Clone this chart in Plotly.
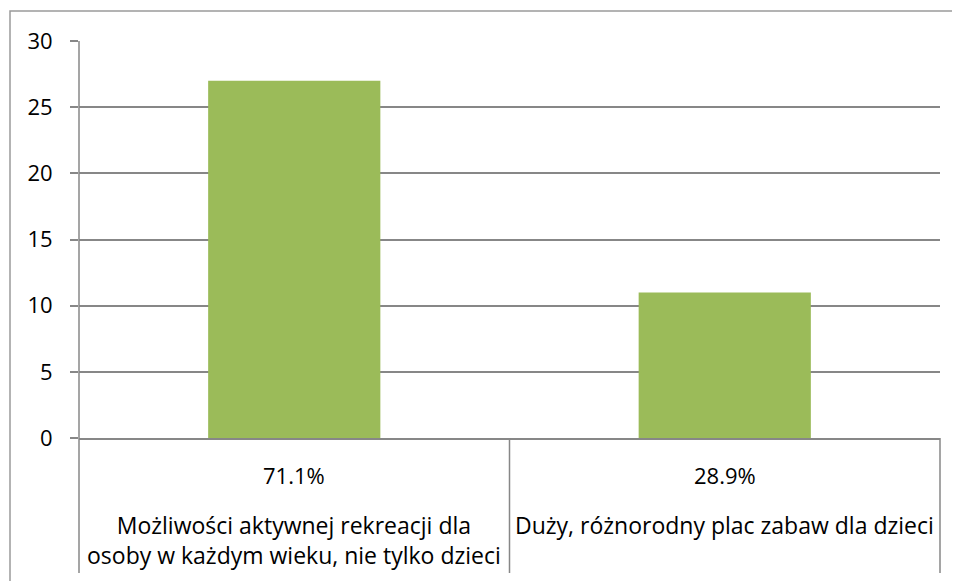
import plotly.graph_objects as go

# Data
categories = ["Możliwości aktywnej rekreacji dla<br>osoby w każdym wieku, nie tylko dzieci",
              "Duży, różnorodny plac zabaw dla dzieci"]
percent_labels = ["71.1%", "28.9%"]
values = [27, 11]
y_ticks = [0, 5, 10, 15, 20, 25, 30]

FONT = "Open Sans"
GRID = "#878787"
BAR = "#9BBB59"

# page body has an 8px margin; figure is sized so the chart lands where the reference does
W, H = 952, 573
ML, MR, MT, MB = 71, 20, 33, 143
plot_w = W - ML - MR
plot_h = H - MT - MB

idx = list(range(len(values)))

fig = go.Figure()
fig.add_trace(go.Bar(x=idx, y=values, width=0.4, marker=dict(color=BAR, line=dict(width=0)),
                     hoverinfo="skip"))

shapes = []
n = len(values)
# category dividers (multi-level axis look)
y_bottom = -(565 - (MT + plot_h)) / plot_h
for i in range(n + 1):
    shapes.append(dict(type="line", xref="paper", yref="paper", x0=i / n, x1=i / n,
                       y0=y_bottom, y1=0 if 0 < i <= n else 1,
                       line=dict(color=GRID, width=1.5)))
# outer chart border
shapes.append(dict(type="rect", xref="paper", yref="paper",
                   x0=(2 - ML) / plot_w, x1=(W + 20 - ML) / plot_w,
                   y0=-(H + 20 - MT - plot_h) / plot_h, y1=(MT + plot_h - 3) / plot_h,
                   line=dict(color="#9a9a9a", width=1.5), fillcolor="rgba(0,0,0,0)", layer="below"))

annotations = []
for i in idx:
    annotations.append(dict(x=i, y=0, xref="x", yref="paper", text=percent_labels[i],
                            showarrow=False, yanchor="middle", yshift=-37,
                            font=dict(family=FONT, size=22, color="#000")))
    nlines = categories[i].count("<br>") + 1
    annotations.append(dict(x=i, y=0, xref="x", yref="paper", text=categories[i],
                            showarrow=False, yanchor="middle", yshift=-87 - 15 * (nlines - 1),
                            font=dict(family=FONT, size=23, color="#000")))

fig.update_layout(
    width=W, height=H,
    margin=dict(l=ML, r=MR, t=MT, b=MB, pad=0),
    paper_bgcolor="white", plot_bgcolor="white",
    showlegend=False,
    bargap=0.6,
    xaxis=dict(range=[-0.5, n - 0.5], showticklabels=False, showgrid=False, zeroline=False,
               showline=True, linecolor=GRID, linewidth=1.5, ticks=""),
    yaxis=dict(range=[0, 30], tickvals=y_ticks, showgrid=True, gridcolor=GRID, gridwidth=1.5,
               zeroline=False, showline=False, ticks="outside", ticklen=8,
               tickcolor=GRID, tickwidth=1.5, ticklabelstandoff=13,
               tickfont=dict(family=FONT, size=22, color="#000")),
    shapes=shapes,
    annotations=annotations,
)

fig.write_html("out.html")
